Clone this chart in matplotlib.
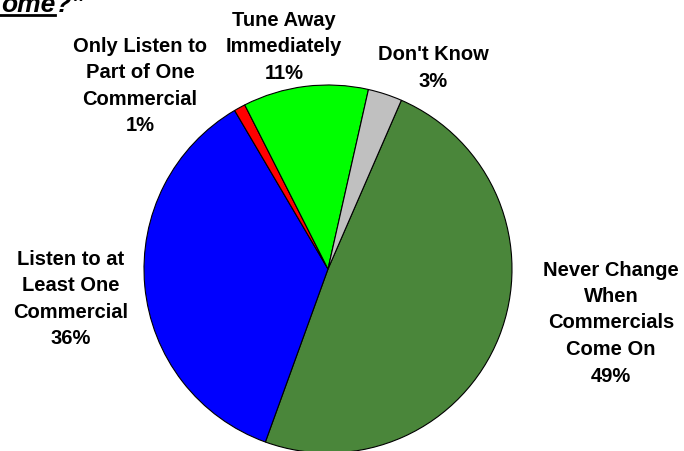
import matplotlib
matplotlib.use("Agg")
import matplotlib.pyplot as plt
from matplotlib.lines import Line2D

# Survey responses (percent), drawn clockwise from the top-right
categories = ["Never Change\nWhen\nCommercials\nCome On",
              "Listen to at\nLeast One\nCommercial",
              "Only Listen to\nPart of One\nCommercial",
              "Tune Away\nImmediately",
              "Don't Know"]
values = [49, 36, 1, 11, 3]
colors = ["#4A863A", "#0000FF", "#FF0000", "#00FF00", "#C0C0C0"]

W, H, DPI = 684, 451, 100
fig = plt.figure(figsize=(W / DPI, H / DPI), dpi=DPI)
fig.patch.set_facecolor("white")

# pie geometry in pixels
cx, cy, r = 328, 269, 184
ax = fig.add_axes([(cx - r) / W, (H - cy - r) / H, 2 * r / W, 2 * r / H])
ax.pie(values, colors=colors, startangle=90 - 23.5, counterclock=False,
       radius=1.0, wedgeprops=dict(edgecolor="black", linewidth=0.8))
ax.set_xlim(-1, 1)
ax.set_ylim(-1, 1)
ax.set_aspect("equal")
ax.axis("off")

font = dict(family="Liberation Sans", weight="bold", size=14.5,
            ha="center", va="center", linespacing=1.5, color="black")

# label positions (pixel x, pixel y of block centre)
label_pos = [(611, 323), (71, 299), (140, 86), (284, 47), (433, 68)]
for cat, val, (px, py) in zip(categories, values, label_pos):
    fig.text(px / W, 1 - py / H, f"{cat}\n{val}%", **font)

# tail of the question title running off the top edge
fig.text(1 / W, 1 - 12 / H, "ome?\u201d", family="Liberation Sans",
         weight="bold", style="italic", size=19, ha="left",
         va="baseline", color="black")
fig.add_artist(Line2D([0, 55 / W], [1 - 14.5 / H, 1 - 14.5 / H],
                      transform=fig.transFigure, color="black",
                      linewidth=2.0))

fig.savefig("out.png", dpi=DPI)
